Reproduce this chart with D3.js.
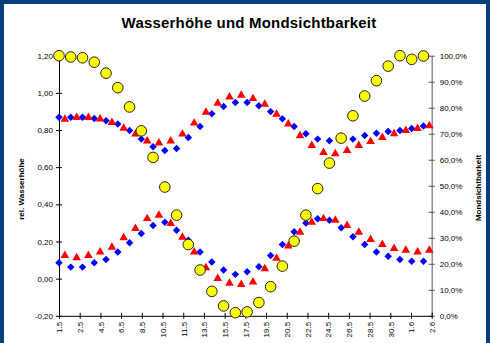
<!DOCTYPE html>
<html><head><meta charset="utf-8">
<script src="https://cdn.jsdelivr.net/npm/d3@7"></script>
<style>
html,body{margin:0;padding:0;background:#0a3d7e;}
svg{display:block;}
text{font-family:"Liberation Sans",Arial,sans-serif;}
</style></head>
<body>
<svg id="c" width="490" height="343"></svg>
<script>
// ---- data ----
const title = "Wasserhöhe und Mondsichtbarkeit";
const leftTitle = "rel. Wasserhöhe";
const rightTitle = "Mondsichtbarkeit";
const tickLabels = ["1.5","2.5","4.5","6.5","8.5","10.5","11.5","13.5","15.5","17.5","19.5","20.5","22.5","24.5","26.5","28.5","30.5","1.6","2.6"];
// blue diamonds (morning), one per day
const blueHigh = [0.869,0.869,0.869,0.862,0.850,0.832,0.797,0.751,0.710,0.690,0.701,0.760,0.819,0.887,0.926,0.948,0.948,0.930,0.899,0.860,0.819,0.780,0.751,0.742,0.748,0.751,0.771,0.783,0.792,0.797,0.808,0.821];
const blueLow  = [0.086,0.062,0.062,0.086,0.103,0.143,0.193,0.243,0.286,0.304,0.261,0.207,0.143,0.089,0.046,0.023,0.037,0.064,0.125,0.184,0.252,0.300,0.323,0.314,0.274,0.225,0.184,0.143,0.121,0.103,0.094,0.094];
// red triangles (evening), half a day later
const redHigh  = [0.858,0.867,0.867,0.859,0.840,0.810,0.778,0.741,0.730,0.741,0.778,0.837,0.896,0.944,0.978,0.987,0.969,0.939,0.885,0.832,0.769,0.717,0.679,0.672,0.690,0.717,0.738,0.760,0.780,0.797,0.808,0.823];
const redLow   = [0.125,0.112,0.125,0.143,0.169,0.220,0.270,0.323,0.341,0.297,0.223,0.143,0.059,0.001,-0.025,-0.031,-0.018,0.053,0.109,0.175,0.250,0.304,0.323,0.314,0.286,0.250,0.211,0.184,0.162,0.153,0.143,0.153];
// moon visibility (fraction), one per day
const moon     = [1.000,0.995,0.992,0.975,0.933,0.877,0.803,0.711,0.609,0.495,0.387,0.274,0.176,0.094,0.038,0.012,0.015,0.051,0.112,0.191,0.287,0.387,0.489,0.587,0.683,0.769,0.845,0.904,0.960,1.000,0.986,0.999];
const leftTicks = [-0.2,0,0.2,0.4,0.6,0.8,1.0,1.2];
const rightTicks = [0,0.1,0.2,0.3,0.4,0.5,0.6,0.7,0.8,0.9,1.0];

// ---- layout ----
const svg = d3.select("#c");
svg.append("rect").attr("x",4).attr("y",4).attr("width",482).attr("height",345).attr("fill","#fff");

const X0 = 59, X1 = 431.7, Y0 = 315.8, Y1 = 55.7;
const xDay = d3.scaleLinear().domain([0,31.7]).range([X0,X1]);
const xLab = d3.scalePoint().domain(tickLabels).range([X0,X1]);
const yL = d3.scaleLinear().domain([-0.2,1.2]).range([Y0,Y1]);
const yR = d3.scaleLinear().domain([0,1]).range([Y0,Y1]);

const de = d3.formatLocale({decimal:",",thousands:".",grouping:[3],currency:["","€"],minus:"-"});
const fL = de.format(".2f"), fR = de.format(".1%");

// title
svg.append("text").attr("x",249).attr("y",28).attr("text-anchor","middle")
  .attr("font-size",15).attr("font-weight","bold").attr("letter-spacing",0.2).text(title);

// left axis
const gL = svg.append("g").attr("transform",`translate(${X0},0)`)
  .call(d3.axisLeft(yL).tickValues(leftTicks).tickFormat(fL).tickSizeOuter(0));
gL.select(".domain").attr("stroke","#000");
gL.selectAll(".tick line").attr("x1",-3).attr("x2",3).attr("stroke","#000");
gL.selectAll(".tick text").attr("x",-6).attr("font-size",8).attr("font-family","Liberation Sans, Arial, sans-serif").attr("fill","#000");

// right axis
const gR = svg.append("g").attr("transform",`translate(${X1},0)`)
  .call(d3.axisRight(yR).tickValues(rightTicks).tickFormat(fR).tickSizeOuter(0));
gR.select(".domain").attr("stroke","#808080").attr("stroke-width",1.3);
gR.selectAll(".tick line").attr("x1",-3).attr("x2",3).attr("stroke","#555");
gR.selectAll(".tick text").attr("x",8).attr("font-size",8).attr("font-family","Liberation Sans, Arial, sans-serif").attr("fill","#000");

// bottom axis
const gB = svg.append("g").attr("transform",`translate(0,${Y0})`)
  .call(d3.axisBottom(xLab).tickSizeOuter(0));
gB.select(".domain").attr("stroke","#000");
gB.selectAll(".tick line").attr("y1",-3).attr("y2",3).attr("stroke","#000");
gB.selectAll(".tick text").attr("font-size",8).attr("font-family","Liberation Sans, Arial, sans-serif").attr("fill","#000")
  .attr("transform","rotate(-90)").attr("text-anchor","end").attr("x",-6).attr("y",0).attr("dy","0.35em");

// axis titles
svg.append("text").attr("transform","translate(24,189) rotate(-90)").attr("text-anchor","middle")
  .attr("font-size",8).attr("font-weight","bold").text(leftTitle);
svg.append("text").attr("transform","translate(481,188) rotate(-90)").attr("text-anchor","middle")
  .attr("font-size",8).attr("font-weight","bold").text(rightTitle);

// marks
const tri = d3.symbol().type(d3.symbolTriangle).size(32);
const plot = svg.append("g");

function diamonds(vals){
  plot.append("g").selectAll("path").data(vals).join("path")
    .attr("d",d3.symbol().type(d3.symbolSquare).size(28))
    .attr("transform",(d,i)=>`translate(${xDay(i)},${yL(d)}) rotate(45)`)
    .attr("fill","#0000ff");
}
function triangles(vals){
  plot.append("g").selectAll("path").data(vals).join("path")
    .attr("d",tri)
    .attr("transform",(d,i)=>`translate(${xDay(i+0.5)},${yL(d)})`)
    .attr("fill","#ff0000");
}
diamonds(blueHigh); diamonds(blueLow);
triangles(redHigh); triangles(redLow);

plot.append("g").selectAll("circle").data(moon).join("circle")
  .attr("cx",(d,i)=>xDay(i)).attr("cy",d=>yR(d)).attr("r",5.3)
  .attr("fill","#ffff00").attr("stroke","#222").attr("stroke-width",1);
</script>
</body></html>
